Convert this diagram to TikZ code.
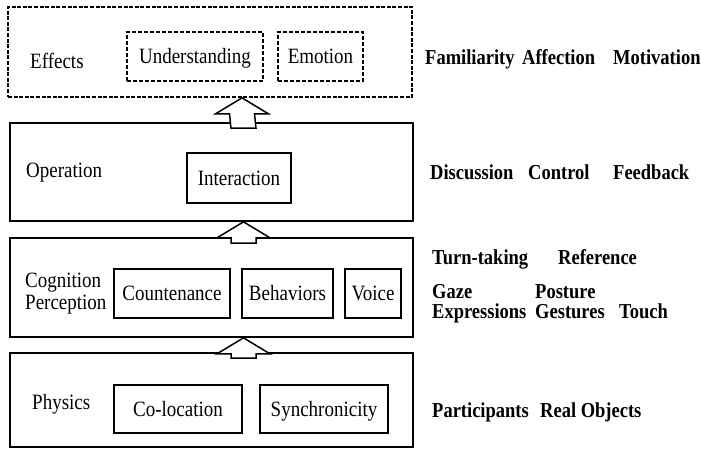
\documentclass[tikz,border=0pt]{standalone}
\usepackage{fontspec}
\setmainfont{Liberation Serif}
\newfontfamily\timesfont{Liberation Serif}
\usetikzlibrary{calc}
% vertically stretched label text
\newcommand{\tallbox}[1]{\scalebox{1}[1.15]{#1}}
\begin{document}
\begin{tikzpicture}[x=1pt,y=-1pt,
  layer/.style={draw=black,line width=1.7pt,minimum width=403pt,inner sep=0pt},
  effectlayer/.style={layer,dash pattern=on 4pt off 1.6pt},
  item/.style={draw=black,line width=1.6pt,inner sep=0pt,minimum height=49pt,
    font=\timesfont\fontsize{19}{22}\selectfont},
  effectitem/.style={item,dash pattern=on 4pt off 2pt},
  lbl/.style={anchor=base west,inner sep=0pt,font=\timesfont\fontsize{19}{22}\selectfont},
  cue/.style={anchor=base west,inner sep=0pt,font=\timesfont\fontsize{18.5}{19}\selectfont\bfseries},
  uparrow/.style={draw=black,fill=white,line width=1.5pt,line join=miter}
]
\useasboundingbox (0,0) rectangle (701,450);

% layers
\node[effectlayer,minimum width=404pt,minimum height=90pt] (eff) at (210,52) {};
\node[layer,minimum height=98pt] (ops) at (211.5,172) {};
\node[layer,minimum height=99pt] (cog) at (211.5,287.5) {};
\node[layer,minimum height=94pt] (phy) at (211.5,400) {};

% layer titles
\node[lbl] (teff) at (30,68) {\tallbox{Effects}};
\node[lbl] (tops) at (26,177) {\tallbox{Operation}};
\node[lbl] (tcog1) at (25,287) {\tallbox{Cognition}};
\node[lbl] (tcog2) at (25,309) {\tallbox{Perception}};
\node[lbl] (tphy) at (32,409) {\tallbox{Physics}};

% items in each layer
\node[effectitem,minimum width=136pt] (und) at (195,56.5) {};
\node[effectitem,minimum width=85pt] (emo) at (320.5,56.5) {};
\node[item,minimum width=104pt,minimum height=50pt] (int) at (239,178) {};
\node[item,minimum width=116pt] (cnt) at (172,293.5) {};
\node[item,minimum width=91pt] (beh) at (287.5,293.5) {};
\node[item,minimum width=56pt] (voi) at (373,293.5) {};
\node[item,minimum width=128pt,minimum height=48pt] (col) at (178,409) {};
\node[item,minimum width=128pt,minimum height=48pt] (syn) at (324,409) {};

% item texts, centred on each box, on a common baseline
\foreach \n/\t in {und/Understanding,emo/Emotion,int/Interaction,cnt/Countenance,
                   beh/Behaviors,voi/Voice,col/Co-location,syn/Synchronicity}{
  \node[lbl,anchor=base] (t\n) at ($(\n.center)+(0,7)$) {\tallbox{\t}};
}

% block arrows between layers (tip on the upper layer's bottom edge)
\foreach \up/\lo in {eff/ops,ops/cog,cog/phy}{
  \coordinate (tip) at ($(\up.south)+(32,0)$);
  \draw[uparrow] (tip) -- ++(26.5,16) -- ++(-14,0) -- ($(\lo.north)+(44.5,6)$)
    -- ++(-25,0) -- ($(tip)+(-12.5,16)$) -- ++(-14,0) -- cycle;
}

% cues for each layer
\node[cue] (c1) at (425,64) {\tallbox{Familiarity}};
\node[cue] (c2) at (522,64) {\tallbox{Affection}};
\node[cue] (c3) at (613,64) {\tallbox{Motivation}};
\node[cue] (c4) at (430,179) {\tallbox{Discussion}};
\node[cue] (c5) at (528,179) {\tallbox{Control}};
\node[cue] (c6) at (613,179) {\tallbox{Feedback}};
\node[cue] (c7) at (432,264) {\tallbox{Turn-taking}};
\node[cue] (c8) at (558,264) {\tallbox{Reference}};
\node[cue] (c9) at (432,298) {\tallbox{Gaze}};
\node[cue] (c10) at (535,298) {\tallbox{Posture}};
\node[cue] (c11) at (432,318) {\tallbox{Expressions}};
\node[cue] (c12) at (535,318) {\tallbox{Gestures}};
\node[cue] (c13) at (619,318) {\tallbox{Touch}};
\node[cue] (c14) at (432,417) {\tallbox{Participants}};
\node[cue] (c15) at (540,417) {\tallbox{Real Objects}};
\end{tikzpicture}
\end{document}
